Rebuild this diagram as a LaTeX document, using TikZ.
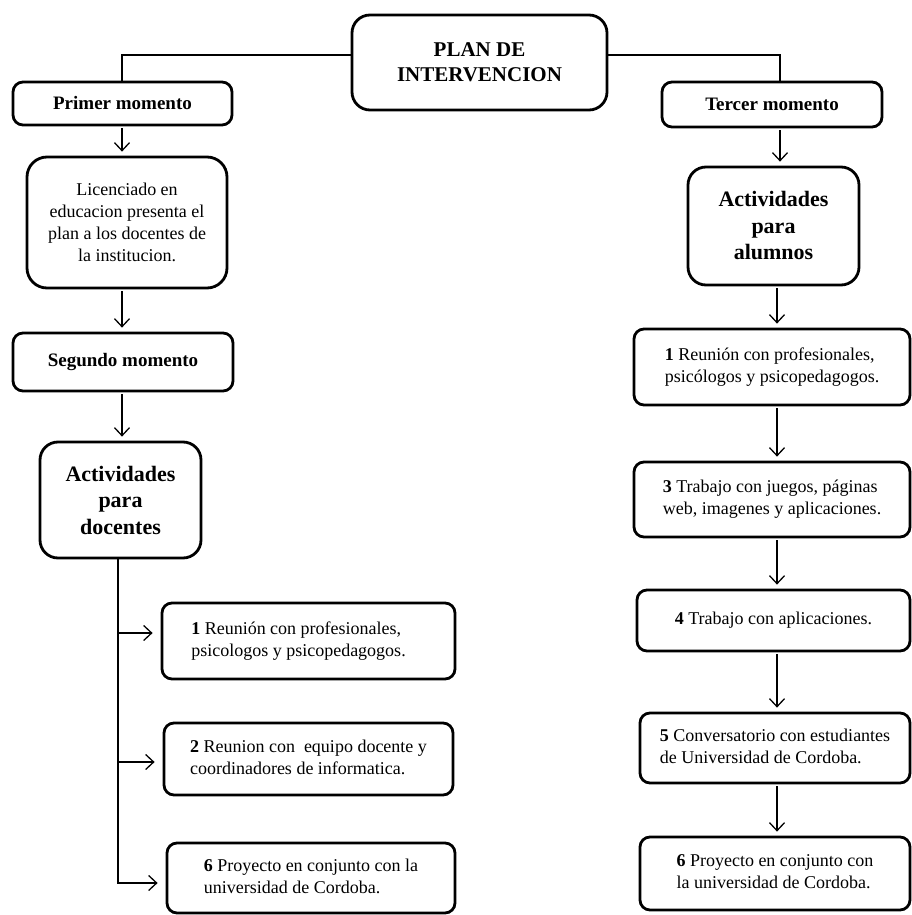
\documentclass[tikz,border=0pt]{standalone}
\usepackage{fontspec}
\setmainfont{Liberation Serif}
\usetikzlibrary{arrows.meta}
\begin{document}
\begin{tikzpicture}[x=1pt,y=-1pt,
  box/.style={draw=black, line width=2.8pt, rounded corners=10pt, align=center, inner sep=0pt, fill=white},
  body/.style={font=\fontsize{18}{22}\selectfont},
  lab/.style={font=\bfseries\fontsize{19}{23}\selectfont},
  act/.style={font=\bfseries\fontsize{22}{26.5}\selectfont},
  arr/.style={line width=1.3pt, -{Straight Barb[length=8pt,width=15pt,line width=1.3pt]}, shorten >=4pt, shorten <=2pt},
  conn/.style={line width=1.3pt}]
\useasboundingbox (0,0) rectangle (912,915);
\fill[white] (0,0) rectangle (912,915);
% helper coordinates
\coordinate (py) at (0,55);
\coordinate (lx) at (122,0);
\coordinate (tx) at (118,0);
\coordinate (tr) at (780,0);
\coordinate (rx) at (777,0);
% nodes
\node[box, rounded corners=18pt, minimum width=255pt, minimum height=95pt, font=\bfseries\fontsize{21}{25}\selectfont] (plan) at (479.5,62.5) {PLAN DE\\INTERVENCION};
\node[box, lab, minimum width=219pt, minimum height=43pt] (primer) at (122.5,103.5) {Primer momento};
\node[box, lab, minimum width=220pt, minimum height=45pt] (tercer) at (772,104.5) {Tercer momento};
\node[box, body, rounded corners=20pt, minimum width=200pt, minimum height=131pt] (lic) at (127,222.5) {Licenciado en\\educacion presenta el\\plan a los docentes de\\la institucion.};
\node[box, act, rounded corners=18pt, minimum width=171pt, minimum height=118pt] (alum) at (773.5,226) {Actividades\\para\\alumnos};
\node[box, lab, minimum width=220pt, minimum height=58pt] (seg) at (123,362) {Segundo momento};
\node[box, act, rounded corners=18pt, minimum width=161pt, minimum height=116pt] (doc) at (120.5,500) {Actividades\\para\\docentes};
% right column
\node[box, body, minimum width=276pt, minimum height=76pt] (r1) at (772,367) {\begin{tabular}{@{}l@{}}\textbf{1} Reunión con profesionales,\\psicólogos y psicopedagogos.\end{tabular}};
\node[box, body, minimum width=276pt, minimum height=75pt] (r3) at (772,499.5) {\begin{tabular}{@{}l@{}}\textbf{3} Trabajo con juegos, páginas\\web, imagenes y aplicaciones.\end{tabular}};
\node[box, body, minimum width=273pt, minimum height=61pt] (r4) at (773.5,620.5) {\textbf{4} Trabajo con aplicaciones.};
\node[box, body, minimum width=270pt, minimum height=70pt] (r5) at (775,748) {\begin{tabular}{@{}l@{}}\textbf{5} Conversatorio con estudiantes\\de Universidad de Cordoba.\end{tabular}};
\node[box, body, minimum width=270pt, minimum height=73pt] (r6) at (775,873.5) {\begin{tabular}{@{}l@{}}\textbf{6} Proyecto en conjunto con\\la universidad de Cordoba.\end{tabular}};
% left column
\node[box, body, minimum width=293pt, minimum height=76pt] (l1) at (308.5,641) {\begin{tabular}{@{}l@{\hspace{20pt}}}\textbf{1} Reunión con profesionales,\\psicologos y psicopedagogos.\end{tabular}};
\node[box, body, minimum width=289pt, minimum height=72pt] (l2) at (308.5,759) {\begin{tabular}{@{}l@{}}\textbf{2} Reunion con\ \ equipo docente y\\coordinadores de informatica.\end{tabular}};
\node[box, body, minimum width=288pt, minimum height=70pt] (l6) at (311,878) {\begin{tabular}{@{}l@{}}\textbf{6} Proyecto en conjunto con la\\universidad de Cordoba.\end{tabular}};
% top connectors
\draw[conn] (plan.west |- py) -| (primer.north -| lx);
\draw[conn] (plan.east |- py) -| (tercer.north -| tr);
% left chain
\draw[arr] (primer.south -| lx) -- (lic.north -| lx);
\draw[arr] (lic.south -| lx) -- (seg.north -| lx);
\draw[arr] (seg.south -| lx) -- (doc.north -| lx);
% trunk
\coordinate (b1) at (118,633);
\coordinate (b2) at (118,762);
\coordinate (b3) at (118,883);
\draw[conn] (doc.south -| tx) -- (b3);
\draw[arr, shorten <=0pt, shorten >=8pt] (b1) -- (b1 -| l1.west);
\draw[arr, shorten <=0pt, shorten >=8pt] (b2) -- (b2 -| l2.west);
\draw[arr, shorten <=-0.65pt, shorten >=8pt] (b3) -- (b3 -| l6.west);
% right chain
\draw[arr] (tercer.south -| tr) -- (alum.north -| tr);
\draw[arr] (alum.south -| rx) -- (r1.north -| rx);
\draw[arr] (r1.south -| rx) -- (r3.north -| rx);
\draw[arr] (r3.south -| rx) -- (r4.north -| rx);
\draw[arr] (r4.south -| rx) -- (r5.north -| rx);
\draw[arr] (r5.south -| rx) -- (r6.north -| rx);
\end{tikzpicture}
\end{document}
